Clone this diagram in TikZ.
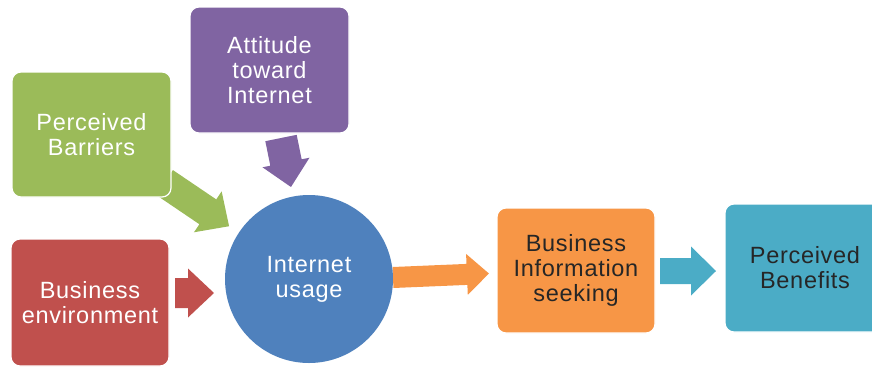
\documentclass[tikz,border=0pt]{standalone}
\usepackage{fontspec}
\setmainfont[LetterSpace=3]{Liberation Sans}
\begin{document}
\definecolor{cPurple}{HTML}{8064A2}
\definecolor{cGreen}{HTML}{9BBB59}
\definecolor{cRed}{HTML}{C0504D}
\definecolor{cBlue}{HTML}{4F81BD}
\definecolor{cOrange}{HTML}{F79646}
\definecolor{cAqua}{HTML}{4BACC6}
\definecolor{cInk}{HTML}{262626}
% block arrow: colour, tail point, angle, length, shaft half width, head half width, head length
\newcommand\blockarrow[7]{%
  \fill[#1,shift={(#2)},rotate=#3]
    (0,-#5) -- ({#4-#7},-#5) -- ({#4-#7},-#6) -- (#4,0)
    -- ({#4-#7},#6) -- ({#4-#7},#5) -- (0,#5) -- cycle;}
\begin{tikzpicture}[x=1pt,y=-1pt,
  lbl/.style={align=center,inner sep=0pt,font=\fontsize{23.5}{25}\selectfont},
  factor/.style={lbl,rectangle,rounded corners=9pt,draw=white,line width=1.2pt,text=white},
  outcome/.style={factor,text=cInk}]
\useasboundingbox (0,0) rectangle (872,367);

% arrow tails
\coordinate (attTail) at (281,138);
\coordinate (barTail) at (164.5,182.5);
\coordinate (envTail) at (175,293);
\coordinate (useTail) at (393,277.5);
\coordinate (infTail) at (660,271);

\blockarrow{cPurple}{attTail}{-78.5}{50}{16}{24}{25}
\blockarrow{cGreen}{barTail}{-34.1}{78}{15}{24.7}{25.7}
\blockarrow{cRed}{envTail}{0}{39}{15}{24.5}{26}
\blockarrow{cOrange}{useTail}{2.4}{96}{10.5}{20.5}{22}
\blockarrow{cAqua}{infTail}{0}{56}{13}{24.5}{25}

\node[factor,fill=cPurple,minimum width=159pt,minimum height=126pt] (att) at (269.5,70)
  {Attitude\\toward\\Internet};
\node[factor,fill=cGreen,minimum width=159pt,minimum height=125pt] (bar) at (91.5,134.5)
  {Perceived\\Barriers};
\node[factor,fill=cRed,minimum width=158pt,minimum height=127pt] (env) at (90,302.5)
  {Business\\environment};
\node[lbl,circle,fill=cBlue,text=white,minimum size=168pt] (use) at (309,279)
  {Internet\\usage};
\node[outcome,fill=cOrange,minimum width=158pt,minimum height=125pt] (inf) at (576,270.5)
  {Business\\Information\\seeking};
\node[outcome,fill=cAqua,minimum width=160pt,minimum height=128pt] (ben) at (805,268)
  {Perceived\\Benefits};
\end{tikzpicture}
\end{document}
